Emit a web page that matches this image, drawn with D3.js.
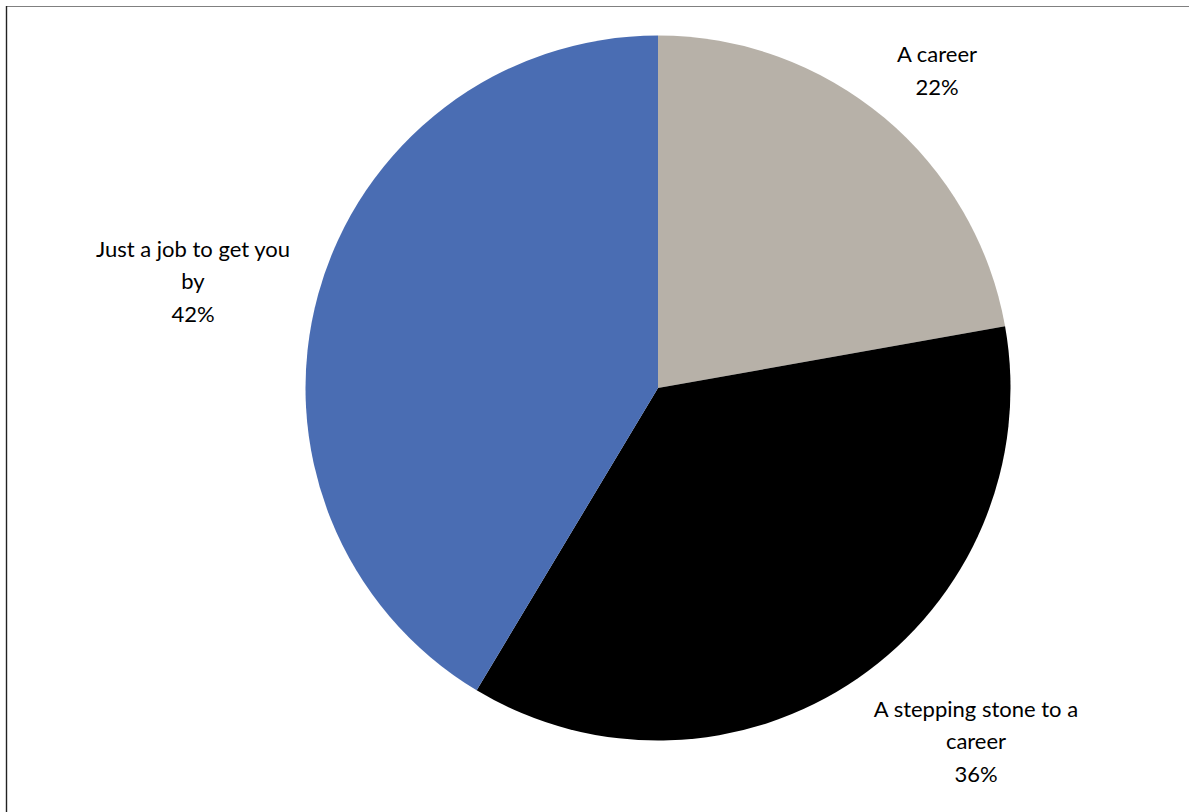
<!DOCTYPE html>
<html>
<head>
<meta charset="utf-8">
<script src="https://cdn.jsdelivr.net/npm/d3@7/dist/d3.min.js"></script>
<style>
html, body { margin: 0; padding: 0; background: #fff; }
svg { display: block; }
</style>
</head>
<body>
<svg id="chart" width="1189" height="812"></svg>
<script>
// Data
const categories = ["A career", "A stepping stone to a career", "Just a job to get you by"];
const values = [22.2, 36.4, 41.4];
const percentLabels = ["22%", "36%", "42%"];
const labelLines = [
  ["A career"],
  ["A stepping stone to a", "career"],
  ["Just a job to get you", "by"]
];
const colors = ["#B7B1A8", "#000000", "#4A6DB3"];

const W = 1189, H = 812;
const cx = 658, cy = 388, R = 352.5;

const svg = d3.select("#chart");

// frame lines
svg.append("line").attr("x1", 6).attr("x2", W).attr("y1", 6.5).attr("y2", 6.5)
  .attr("stroke", "#808080").attr("stroke-width", 1.2);
svg.append("line").attr("x1", 6.5).attr("x2", 6.5).attr("y1", 6).attr("y2", H)
  .attr("stroke", "#222").attr("stroke-width", 1.4);

const pie = d3.pie().sort(null).value(d => d)(values);
const arc = d3.arc().innerRadius(0).outerRadius(R);

const g = svg.append("g").attr("transform", `translate(${cx},${cy})`);
g.selectAll("path").data(pie).join("path")
  .attr("d", arc)
  .attr("fill", (d, i) => colors[i]);

// label positions (outside-end style labels)
const labelPos = [
  {x: 937, y: 62},
  {x: 976, y: 716.5},
  {x: 193, y: 256.5}
];
const lineGap = 32.6;

const lg = svg.append("g")
  .attr("font-family", "Lato, 'Open Sans', sans-serif")
  .attr("font-size", 22)
  .attr("fill", "#000")
  .attr("text-anchor", "middle");

categories.forEach((c, i) => {
  const lines = labelLines[i].concat([percentLabels[i]]);
  const t = lg.append("text").attr("x", labelPos[i].x).attr("y", labelPos[i].y);
  lines.forEach((ln, j) => {
    t.append("tspan").attr("x", labelPos[i].x).attr("y", labelPos[i].y + j * lineGap).text(ln);
  });
});
</script>
</body>
</html>
